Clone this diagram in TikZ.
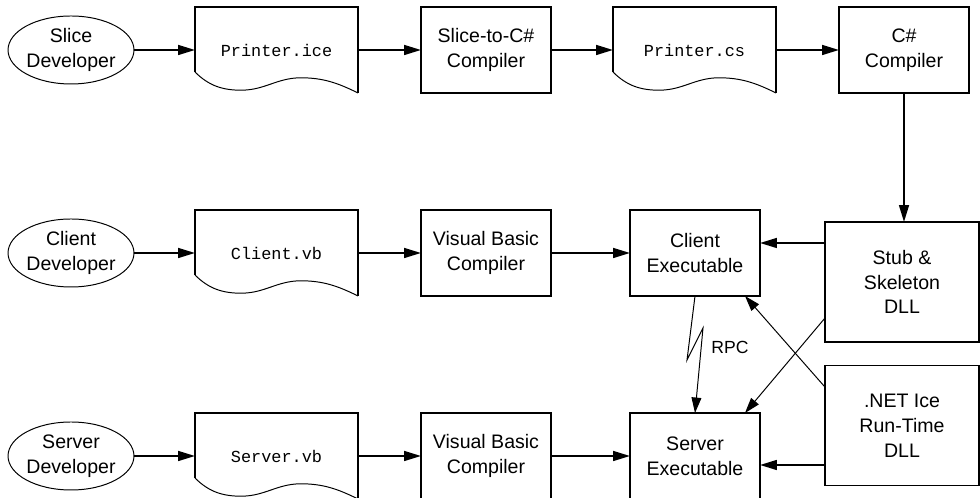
\documentclass[tikz,border=0pt]{standalone}
\usepackage{fontspec}
\setmainfont{Liberation Sans}
\setmonofont{Liberation Mono}
\usetikzlibrary{shapes.geometric,arrows.meta,calc}

\newcommand{\docpage}[1]{%
\draw[line width=1.3pt] ($(#1.south west)+(0,0.525)$) -- (#1.north west) -- (#1.north east) -- (#1.south east);
\draw[line width=0.7pt] ($(#1.south west)+(0,0.525)$) .. controls +(0.35,-0.35) and +(-0.45,0) .. ($(#1.south west)+(1.15,0.07)$)
  .. controls +(0.6,0) and +(-0.6,0) .. ($(#1.south west)+(2.65,0.38)$)
  .. controls +(0.55,0) and +(-0.5,0.25) .. (#1.south east);}

\tikzset{
  dev/.style={ellipse,draw,line width=0.7pt,minimum width=3.05cm,minimum height=1.7cm,inner sep=0pt,align=center,font=\fontsize{13.9}{17.7}\selectfont},
  tool/.style={rectangle,draw,line width=1.3pt,minimum width=3.25cm,minimum height=2.15cm,inner sep=0pt,outer sep=0pt,align=center,font=\fontsize{13.9}{17.7}\selectfont},
  dll/.style={tool,minimum width=3.85cm,minimum height=3cm},
  srcfile/.style={rectangle,minimum width=4.075cm,minimum height=2.15cm,inner sep=0pt,outer sep=0pt,font=\fontsize{12}{14}\ttfamily},
  arr/.style={-{Triangle[length=12pt,width=7pt]},line width=1.3pt},
  thinarr/.style={-{Triangle[length=11pt,width=7pt]},line width=0.7pt}
}

\begin{document}
\begin{tikzpicture}
\useasboundingbox (0,0) rectangle (24.5,12.45);

\node[dev] (sdev) at (1.775,11.2) {Slice\\Developer};
\node[dev] (cdev) at (1.775,6.125) {Client\\Developer};
\node[dev] (vdev) at (1.775,1.05) {Server\\Developer};

\node[srcfile] (ice) at (6.9125,11.2) {Printer.ice}; \docpage{ice}
\node[srcfile] (cvb) at (6.9125,6.125) {Client.vb}; \docpage{cvb}
\node[srcfile] (svb) at (6.9125,1.05) {Server.vb}; \docpage{svb}

\node[tool] (s2cs) at (12.15,11.2) {Slice-to-C\#\\Compiler};
\node[tool] (vbc1) at (12.15,6.125) {Visual Basic\\Compiler};
\node[tool] (vbc2) at (12.15,1.05) {Visual Basic\\Compiler};

\node[srcfile] (pcs) at (17.3625,11.2) {Printer.cs}; \docpage{pcs}
\node[tool] (client) at (17.375,6.125) {Client\\Executable};
\node[tool] (server) at (17.375,1.05) {Server\\Executable};

\node[tool] (csc) at (22.6,11.2) {C\#\\Compiler};
\node[dll] (stub) at (22.55,5.4) {Stub \&\\Skeleton\\DLL};
\node[dll] (net) at (22.55,1.8125) {.NET Ice\\Run-Time\\DLL};

\draw[arr] (sdev) -- (ice); \draw[arr] (ice) -- (s2cs); \draw[arr] (s2cs) -- (pcs); \draw[arr] (pcs) -- (csc);
\draw[arr] (cdev) -- (cvb); \draw[arr] (cvb) -- (vbc1); \draw[arr] (vbc1) -- (client);
\draw[arr] (vdev) -- (svb); \draw[arr] (svb) -- (vbc2); \draw[arr] (vbc2) -- (server);
\draw[arr] (csc.south) -- (csc.south |- stub.north);

\path ([yshift=.25cm]client.east) coordinate (cin);
\path ([yshift=-.225cm]server.east) coordinate (sin);
\draw[arr] (cin -| stub.west) -- (cin);
\draw[arr] (sin -| net.west) -- (sin);

\draw[thinarr] ([yshift=-.9cm]stub.west) -- ([xshift=-.375cm]server.north east);
\draw[thinarr] ([yshift=.96cm]net.west) -- ([xshift=-.375cm]client.south east);

\draw[thinarr] (client.south) -- ++(-0.2,-1.6) -- ++(0.4,0.8) -- (server.north);
\node[font=\fontsize{12.5}{15}\selectfont] (rpc) at (18.25,3.775) {RPC};
\end{tikzpicture}
\end{document}
